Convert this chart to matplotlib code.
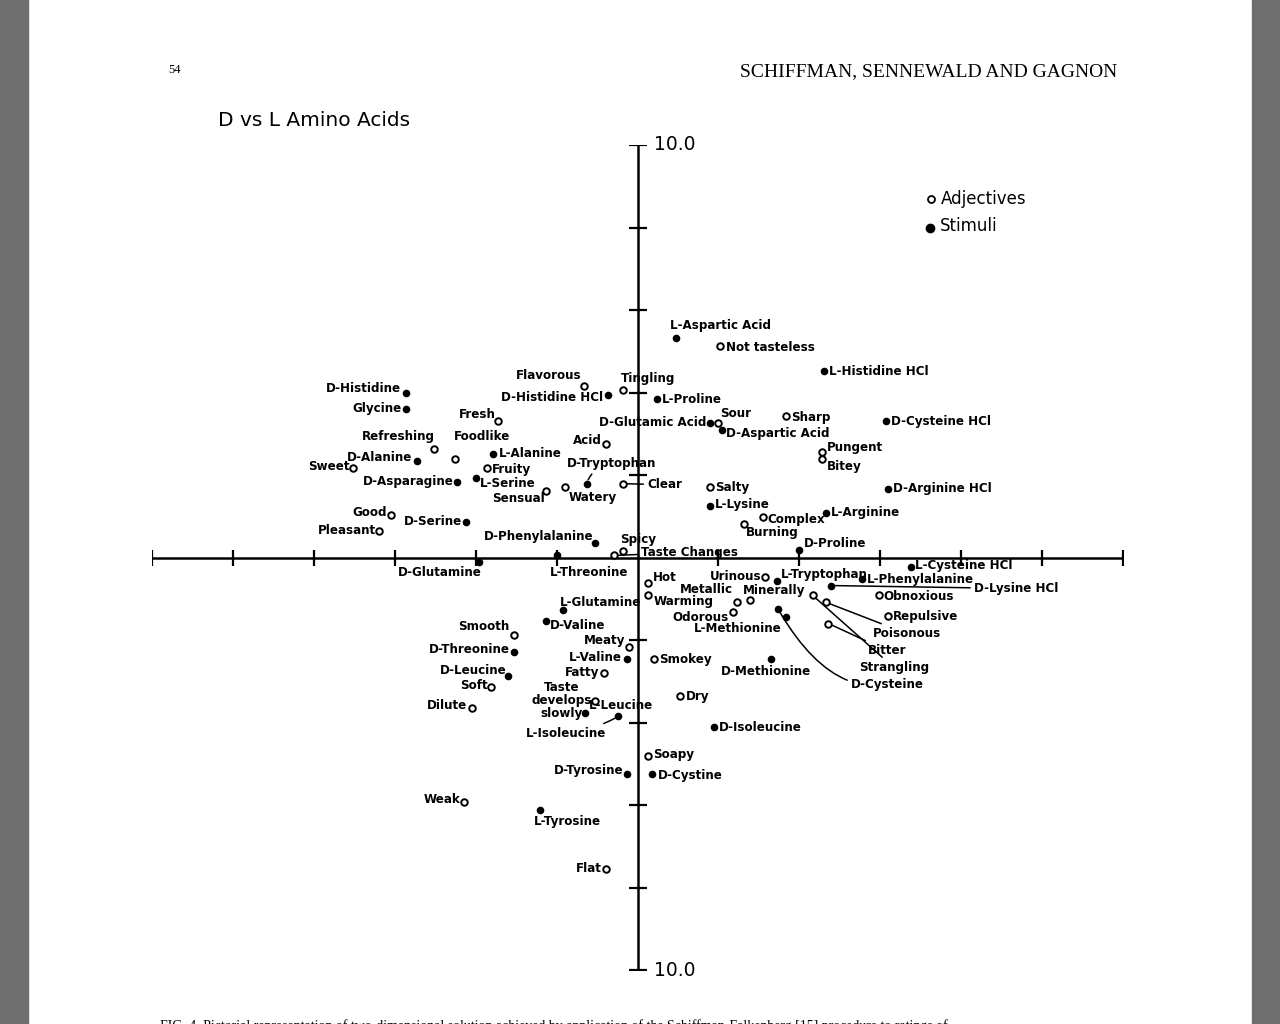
import matplotlib
matplotlib.use("Agg")
import matplotlib.pyplot as plt
from matplotlib.patches import Rectangle

# D vs L amino acids - two dimensional solution
stim_names = ["D-Histidine", "Glycine", "D-Alanine", "D-Asparagine", "L-Alanine",
              "L-Serine", "D-Serine", "D-Histidine HCl", "D-Tryptophan", "D-Phenylalanine",
              "L-Aspartic Acid", "L-Proline", "D-Glutamic Acid", "D-Aspartic Acid",
              "L-Histidine HCl", "D-Cysteine HCl", "D-Arginine HCl", "L-Lysine", "L-Arginine",
              "D-Proline", "D-Glutamine", "L-Threonine", "L-Tryptophan", "L-Phenylalanine",
              "L-Cysteine HCl", "D-Lysine HCl", "L-Glutamine", "D-Valine", "L-Valine",
              "D-Threonine", "D-Leucine", "D-Cysteine", "L-Methionine", "D-Methionine",
              "D-Isoleucine", "L-Leucine", "L-Isoleucine", "D-Tyrosine", "D-Cystine",
              "L-Tyrosine"]
stim_x = [-5.71, -5.71, -5.46, -4.45, -3.56, -4.00, -4.23, -0.74, -1.26, -1.06,
          0.96, 0.47, 1.78, 2.08, 4.60, 6.13, 6.20, 1.80, 4.65, 3.98,
          -3.91, -1.98, 3.44, 5.56, 6.77, 4.79, -1.85, -2.27, -0.27, -3.06,
          -3.21, 3.48, 3.66, 3.31, 1.90, -1.29, -0.47, -0.25, 0.35, -2.40]
stim_y = [4.00, 3.61, 2.35, 1.84, 2.52, 1.92, 0.85, 3.95, 1.79, 0.34,
          5.33, 3.85, 3.25, 3.10, 4.53, 3.30, 1.67, 1.26, 1.09, 0.19,
          -0.12, 0.07, -0.56, -0.51, -0.22, -0.68, -1.28, -1.53, -2.47, -2.28,
          -2.88, -1.26, -1.45, -2.47, -4.10, -3.78, -3.85, -5.24, -5.24, -6.13]

adj_names = ["Sweet", "Refreshing", "Foodlike", "Flavorous", "Tingling", "Fresh", "Acid",
             "Fruity", "Sensual", "Watery", "Good", "Pleasant", "Clear", "Not tasteless",
             "Sour", "Sharp", "Pungent", "Bitey", "Salty", "Complex", "Burning", "Spicy",
             "Taste Changes", "Hot", "Warming", "Metallic", "Minerally", "Urinous",
             "Odorous", "Strangling", "Poisonous", "Bitter", "Obnoxious", "Repulsive",
             "Smooth", "Meaty", "Fatty", "Smokey", "Soft", "Dilute",
             "Taste\ndevelops\nslowly", "Dry", "Soapy", "Weak", "Flat"]
adj_x = [-7.02, -5.02, -4.52, -1.33, -0.37, -3.44, -0.79, -3.71, -2.25, -1.78,
         -6.10, -6.38, -0.37, 2.03, 2.00, 3.68, 4.57, 4.57, 1.80, 3.09,
         2.64, -0.37, -0.57, 0.25, 0.25, 2.47, 2.79, 3.16, 2.35, 4.33,
         4.67, 4.72, 5.96, 6.20, -3.06, -0.20, -0.84, 0.42, -3.61, -4.10,
         -1.04, 1.06, 0.25, -4.28, -0.79]
adj_y = [2.18, 2.64, 2.40, 4.15, 4.05, 3.30, 2.74, 2.18, 1.62, 1.70,
         1.02, 0.65, 1.79, 5.12, 3.27, 3.42, 2.55, 2.38, 1.70, 0.97,
         0.82, 0.15, 0.05, -0.63, -0.90, -1.07, -1.02, -0.48, -1.33, -0.92,
         -1.09, -1.60, -0.90, -1.41, -1.87, -2.16, -2.81, -2.47, -3.13, -3.64,
         -3.47, -3.35, -4.80, -5.92, -7.54]

x_ticks = [-12, -10, -8, -6, -4, -2, 2, 4, 6, 8, 10, 12]
y_ticks = [-10, -8, -6, -4, -2, 2, 4, 6, 8, 10]

# label placement: (dx, dy) in pixels from the point, horizontal alignment
lab = {
    "D-Histidine": (-5, 4, "right"), "Glycine": (-5, 0, "right"), "D-Alanine": (-4, 3, "right"),
    "D-Asparagine": (-4, 0, "right"), "L-Alanine": (5, 0, "left"), "L-Serine": (4, -5, "left"),
    "D-Serine": (-4, 1, "right"), "D-Histidine HCl": (-4, -3, "right"),
    "D-Tryptophan": (-20, 20, "left"), "D-Phenylalanine": (-1, 7, "right"),
    "L-Aspartic Acid": (-6, 12, "left"), "L-Proline": (5, -1, "left"),
    "D-Glutamic Acid": (-3, 1, "right"), "D-Aspartic Acid": (4, -4, "left"),
    "L-Histidine HCl": (5, -1, "left"), "D-Cysteine HCl": (5, 0, "left"),
    "D-Arginine HCl": (5, 0, "left"), "L-Lysine": (5, 1, "left"), "L-Arginine": (5, 0, "left"),
    "D-Proline": (5, 6, "left"), "D-Glutamine": (2, -10, "right"),
    "L-Threonine": (-8, -18, "left"), "L-Tryptophan": (4, 6, "left"),
    "L-Phenylalanine": (4, -1, "left"), "L-Cysteine HCl": (4, 1, "left"),
    "D-Lysine HCl": (143, -3, "left"), "L-Glutamine": (-3, 8, "left"),
    "D-Valine": (4, -5, "left"), "L-Valine": (-5, 2, "right"), "D-Threonine": (-4, 2, "right"),
    "D-Leucine": (-1, 6, "right"), "D-Cysteine": (73, -75, "left"),
    "L-Methionine": (-4, -11, "right"), "D-Methionine": (-51, -12, "left"),
    "D-Isoleucine": (5, -1, "left"), "L-Leucine": (4, 8, "left"),
    "L-Isoleucine": (-12, -17, "right"), "D-Tyrosine": (-4, 3, "right"),
    "D-Cystine": (6, -2, "left"), "L-Tyrosine": (-7, -11, "left"),
    "Sweet": (-4, 1, "right"), "Refreshing": (0, 12, "right"), "Foodlike": (-1, 22, "left"),
    "Flavorous": (-2, 11, "right"), "Tingling": (-2, 12, "left"), "Fresh": (-3, 7, "right"),
    "Acid": (-4, 4, "right"), "Fruity": (4, -2, "left"), "Sensual": (-2, -8, "right"),
    "Watery": (3, -10, "left"), "Good": (-4, 3, "right"), "Pleasant": (-3, 0, "right"),
    "Clear": (25, -1, "left"), "Not tasteless": (6, -1, "left"), "Sour": (2, 9, "left"),
    "Sharp": (5, -1, "left"), "Pungent": (4, 5, "left"), "Bitey": (4, -7, "left"),
    "Salty": (5, 0, "left"), "Complex": (5, -2, "left"), "Burning": (2, -9, "left"),
    "Spicy": (-2, 12, "left"), "Taste Changes": (27, 3, "left"), "Hot": (5, 6, "left"),
    "Warming": (6, -7, "left"), "Metallic": (-5, 12, "right"), "Minerally": (-8, 9, "left"),
    "Urinous": (-4, 1, "right"), "Odorous": (-4, -5, "right"),
    "Strangling": (46, -72, "left"), "Poisonous": (46, -31, "left"), "Bitter": (39, -27, "left"),
    "Obnoxious": (5, -2, "left"), "Repulsive": (5, -1, "left"), "Smooth": (-4, 8, "right"),
    "Meaty": (-4, 6, "right"), "Fatty": (-4, 1, "right"), "Smokey": (5, 0, "left"),
    "Soft": (-4, 1, "right"), "Dilute": (-4, 2, "right"),
    "Taste\ndevelops\nslowly": (-4, 0, "right"), "Dry": (5, -1, "left"),
    "Soapy": (6, 1, "left"), "Weak": (-4, 2, "right"), "Flat": (-4, 0, "right"),
}
# leader lines
leaders = {
    "D-Tryptophan": "arc3,rad=0.3", "D-Lysine HCl": "arc3,rad=0",
    "D-Cysteine": "angle3,angleA=10,angleB=-60", "L-Methionine": "arc3,rad=0.2",
    "L-Isoleucine": "arc3,rad=0.1", "Clear": "arc3,rad=0", "Taste Changes": "arc3,rad=0",
    "Strangling": "arc3,rad=0", "Poisonous": "arc3,rad=0", "Bitter": "arc3,rad=0",
}

sans = ["DejaVu Sans"]

fig = plt.figure(figsize=(12.8, 10.24), dpi=100)
fig.patches.append(Rectangle((0, 0), 28 / 1280, 1, transform=fig.transFigure, color="#6e6e6e"))
fig.patches.append(Rectangle((1252 / 1280, 0), 28 / 1280, 1, transform=fig.transFigure, color="#6e6e6e"))

ax = fig.add_axes([152 / 1280, 54 / 1024, 971 / 1280, 825 / 1024])
ax.set_xlim(-12, 12)
ax.set_ylim(-10, 10)
ax.axis("off")

ax.plot([-12, 12], [0, 0], color="k", lw=1.8)
ax.plot([0, 0], [-10, 10], color="k", lw=1.8)
ax.plot(x_ticks, [0] * len(x_ticks), ls="none", marker="|", ms=11, mew=1.6, color="k")
ax.plot([0] * len(y_ticks), y_ticks, ls="none", marker="_", ms=13, mew=1.6, color="k")
for yv in (10, -10):
    ax.annotate("10.0", (0, yv), xytext=(17, 0), textcoords="offset pixels",
                va="center", ha="left", fontsize=13.5, family=sans)

ax.scatter(adj_x, adj_y, s=22, facecolors="white", edgecolors="k", linewidths=1.4, zorder=3)
ax.scatter(stim_x, stim_y, s=20, color="k", zorder=3)

for names, xs, ys in ((stim_names, stim_x, stim_y), (adj_names, adj_x, adj_y)):
    for n, xv, yv in zip(names, xs, ys):
        dx, dy, ha = lab[n]
        ap = None
        if n in leaders:
            ap = dict(arrowstyle="-", color="k", lw=1.1, shrinkA=1, shrinkB=3,
                      connectionstyle=leaders[n])
        ax.annotate(n, (xv, yv), xytext=(dx, dy), textcoords="offset pixels",
                    ha=ha, va="center", multialignment="center", fontsize=8.6,
                    fontweight="bold", family=sans, arrowprops=ap,
                    linespacing=1.0, annotation_clip=False)

# legend
fig.text(941 / 1280, 1 - 199 / 1024, "Adjectives", fontsize=12, va="center", family=sans)
fig.text(940 / 1280, 1 - 226 / 1024, "Stimuli", fontsize=12, va="center", family=sans)
fig.lines.append(plt.Line2D([931 / 1280], [1 - 199 / 1024], marker="o", ms=5, mfc="white",
                            mec="k", mew=1.3, transform=fig.transFigure))
fig.lines.append(plt.Line2D([930 / 1280], [1 - 228 / 1024], marker="o", ms=6, color="k",
                            transform=fig.transFigure))

fig.text(218 / 1280, 1 - 120 / 1024, "D vs L Amino Acids", fontsize=14.5, va="center", family=sans)
fig.text(168 / 1280, 1 - 70 / 1024, "54", fontsize=9, va="center", family="Liberation Serif")
fig.text(1117 / 1280, 1 - 72 / 1024, "SCHIFFMAN, SENNEWALD AND GAGNON", fontsize=14,
         va="center", ha="right", family="Liberation Serif")
fig.text(160 / 1280, 1 - 1019 / 1024,
         "FIG. 4. Pictorial representation of two-dimensional solution achieved by application "
         "of the Schiffman-Falkenberg [15] procedure to ratings of",
         fontsize=10, va="top", family="Liberation Serif")

fig.savefig("out.png", dpi=100)
